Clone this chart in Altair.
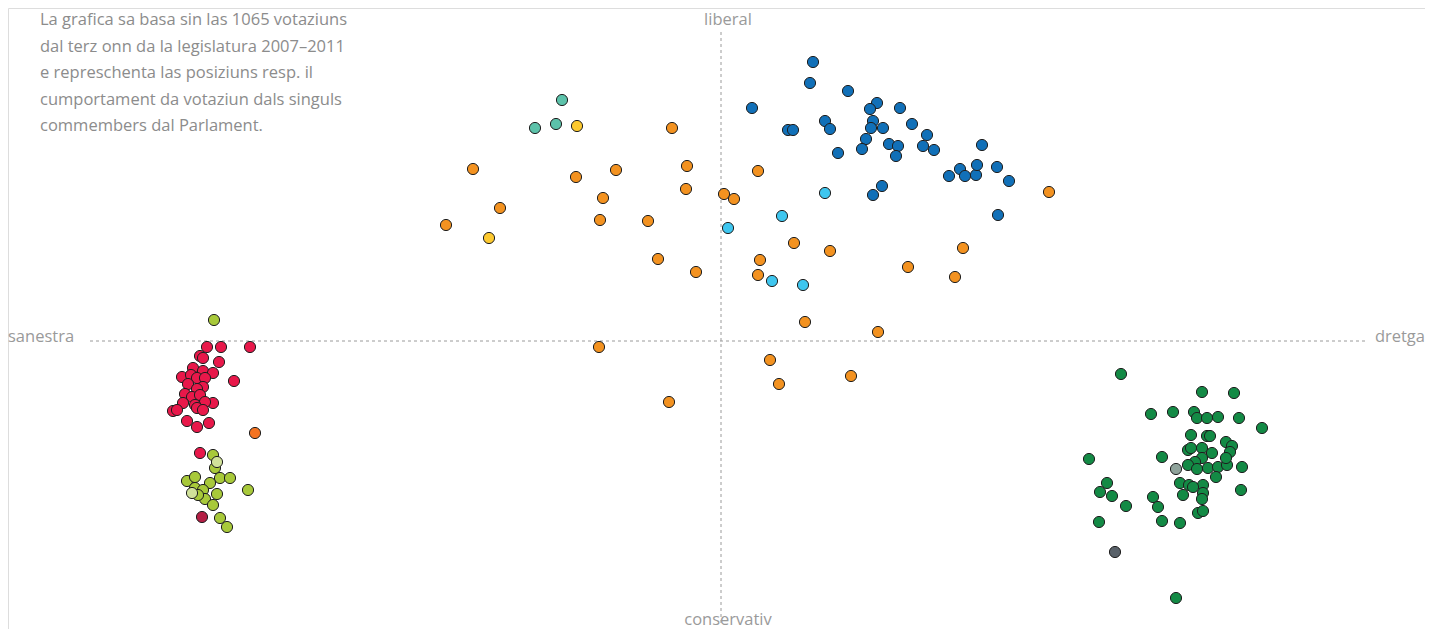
import altair as alt
import pandas as pd

# Positions (arbitrary scale units; 0,0 = centre of the map)
blue_x = [92, 89, 127, 31, 156, 149, 179, 104, 109, 67, 72, 152, 150, 162, 191, 145, 141, 168, 177, 175,
          206, 202, 213, 117, 261, 228, 239, 244, 255, 256, 276, 288, 161, 152, 277]
blue_y = [279, 258, 250, 233, 238, 232, 233, 220, 212, 211, 211, 220, 213, 213, 217, 202, 192, 197, 195, 185,
          206, 195, 191, 188, 196, 165, 172, 165, 166, 176, 174, 160, 155, 146, 126]

cyan_x = [104, 61, 7, 51, 82]
cyan_y = [148, 125, 113, 60, 56]

orange_x = [-49, -248, -145, -105, -34, -35, -118, -221, -275, -121, -73, -63, -25, 3, 13, 37, 328, 73, 109,
            39, 37, 242, 187, 234, 84, 157, -122, 49, 58, 130, -52]
orange_y = [213, 172, 164, 171, 175, 152, 143, 133, 116, 121, 120, 82, 69, 147, 142, 170, 149, 98, 90,
            81, 66, 93, 74, 64, 19, 9, -6, -19, -43, -35, -61]

yellow_x = [-144, -232]
yellow_y = [215, 103]

teal_x = [-159, -186, -165]
teal_y = [241, 213, 217]

red_x = [-514, -500, -471, -521, -518, -502, -528, -518, -508, -539, -530, -524, -487, -516, -533, -518,
         -524, -536, -529, -521, -538, -508, -516, -526, -548, -544, -524, -518, -534, -512, -524, -521]
red_y = [-6, -6, -6, -15, -17, -21, -27, -30, -32, -36, -34, -37, -40, -37, -43, -46,
         -48, -53, -56, -54, -62, -62, -61, -64, -70, -69, -67, -69, -80, -82, -86, -112]

darkred_x = [-519]
darkred_y = [-176]

orangered_x = [-466]
orangered_y = [-92]

lime_x = [-507, -508, -506, -534, -526, -501, -491, -511, -526, -518, -504, -516, -508, -523, -473, -501, -494]
lime_y = [21, -114, -127, -140, -136, -137, -137, -142, -147, -149, -153, -158, -164, -154, -149, -177, -186]

palelime_x = [-504, -529]
palelime_y = [-121, -152]

green_x = [400, 481, 513, 430, 452, 473, 476, 486, 497, 518, 541, 470, 486, 489, 505, 511, 509, 467, 470, 481,
           491, 481, 474, 467, 476, 487, 497, 506, 505, 495, 521, 441, 368, 459, 468, 482, 472, 462, 482, 481,
           520, 386, 379, 391, 405, 432, 437, 378, 441, 459, 477, 482, 455]
green_y = [-33, -51, -52, -73, -71, -71, -77, -77, -76, -77, -87, -94, -95, -95, -101, -105, -111, -109, -107, -107,
           -112, -117, -121, -124, -128, -127, -126, -124, -117, -136, -126, -116, -118, -142, -144, -144, -146, -154, -152, -158,
           -149, -142, -151, -155, -165, -156, -166, -181, -180, -182, -172, -170, -257]

gray_x = [455]
gray_y = [-128]

darkgray_x = [394]
darkgray_y = [-211]

groups = [
    ("blue", blue_x, blue_y, "#1170b8"),
    ("cyan", cyan_x, cyan_y, "#3ec6ef"),
    ("orange", orange_x, orange_y, "#f39220"),
    ("yellow", yellow_x, yellow_y, "#fdc92f"),
    ("teal", teal_x, teal_y, "#5cc2aa"),
    ("red", red_x, red_y, "#e8184a"),
    ("darkred", darkred_x, darkred_y, "#b41f45"),
    ("orangered", orangered_x, orangered_y, "#f47321"),
    ("lime", lime_x, lime_y, "#a8c93a"),
    ("palelime", palelime_x, palelime_y, "#d1e29a"),
    ("green", green_x, green_y, "#138a45"),
    ("gray", gray_x, gray_y, "#8fa39b"),
    ("darkgray", darkgray_x, darkgray_y, "#596169"),
]

rows = []
for name, xs_, ys_, _ in groups:
    for x, y in zip(xs_, ys_):
        rows.append({"party": name, "x": x, "y": y})
points = pd.DataFrame(rows)

note_lines = [
    "La grafica sa basa sin las 1065 votaziuns",
    "dal terz onn da la legislatura 2007–2011",
    "e represchenta las posiziuns resp. il",
    "cumportament da votaziun dals singuls",
    "commembers dal Parlament.",
]

X_DOM = [-713, 704]
Y_DOM = [-288, 333]
xs = alt.Scale(domain=X_DOM, nice=False, zero=False)
ys = alt.Scale(domain=Y_DOM, nice=False, zero=False)

W, H = 1417, 621
FONT = "Open Sans"

hline = alt.Chart(pd.DataFrame({"x": [-631], "x2": [646], "y": [0]})).mark_rule(
    color="#9a9a9a", strokeDash=[3, 3], strokeWidth=1
).encode(
    x=alt.X("x:Q", scale=xs, axis=None),
    x2="x2:Q",
    y=alt.Y("y:Q", scale=ys, axis=None),
)

vline = alt.Chart(pd.DataFrame({"x": [0], "y": [-282], "y2": [309]})).mark_rule(
    color="#9a9a9a", strokeDash=[3, 3], strokeWidth=1
).encode(
    x=alt.X("x:Q", scale=xs, axis=None),
    y=alt.Y("y:Q", scale=ys, axis=None),
    y2="y2:Q",
)

dots = alt.Chart(points).mark_circle(
    size=125, opacity=1, stroke="#1e1e1e", strokeWidth=1
).encode(
    x=alt.X("x:Q", scale=xs, axis=None),
    y=alt.Y("y:Q", scale=ys, axis=None),
    color=alt.Color(
        "party:N",
        scale=alt.Scale(domain=[g[0] for g in groups], range=[g[3] for g in groups]),
        legend=None,
    ),
)

axis_labels = pd.DataFrame({
    "label": ["liberal", "conservativ", "sanestra", "dretga"],
    "x": [7, 7, -713, 704],
    "y": [321, -284, 4, 4],
})

lab_top = alt.Chart(axis_labels.iloc[:1]).mark_text(
    font=FONT, fontSize=16.5, color="#9a9a9a", align="center", baseline="middle"
).encode(
    x=alt.X("x:Q", scale=xs, axis=None),
    y=alt.Y("y:Q", scale=ys, axis=None),
    text="label:N",
)
lab_bottom = alt.Chart(axis_labels.iloc[1:2]).mark_text(
    font=FONT, fontSize=16.5, color="#9a9a9a", align="center", baseline="alphabetic"
).encode(
    x=alt.X("x:Q", scale=xs, axis=None),
    y=alt.Y("y:Q", scale=ys, axis=None),
    text="label:N",
)
lab_left = alt.Chart(axis_labels.iloc[2:3]).mark_text(
    font=FONT, fontSize=16.5, color="#9a9a9a", align="left", baseline="middle"
).encode(
    x=alt.X("x:Q", scale=xs, axis=None),
    y=alt.Y("y:Q", scale=ys, axis=None),
    text="label:N",
)
lab_right = alt.Chart(axis_labels.iloc[3:4]).mark_text(
    font=FONT, fontSize=16.5, color="#9a9a9a", align="right", baseline="middle"
).encode(
    x=alt.X("x:Q", scale=xs, axis=None),
    y=alt.Y("y:Q", scale=ys, axis=None),
    text="label:N",
)

note_df = pd.DataFrame({
    "line": note_lines,
    "x": [-681] * len(note_lines),
    "y": [341 - (20 + 26.5 * i) for i in range(len(note_lines))],
})
note = alt.Chart(note_df).mark_text(
    font=FONT, fontSize=16.5, color="#8c8c8c", align="left", baseline="middle"
).encode(
    x=alt.X("x:Q", scale=xs, axis=None),
    y=alt.Y("y:Q", scale=ys, axis=None),
    text="line:N",
)

chart = alt.layer(hline, vline, dots, lab_top, lab_bottom, lab_left, lab_right, note).properties(
    width=W, height=H, padding=0, autosize=alt.AutoSizeParams(type="none")
).configure_view(stroke="transparent", strokeWidth=0).configure(background="white")

chart.save("out.html", embed_options={"renderer": "svg", "actions": False})
